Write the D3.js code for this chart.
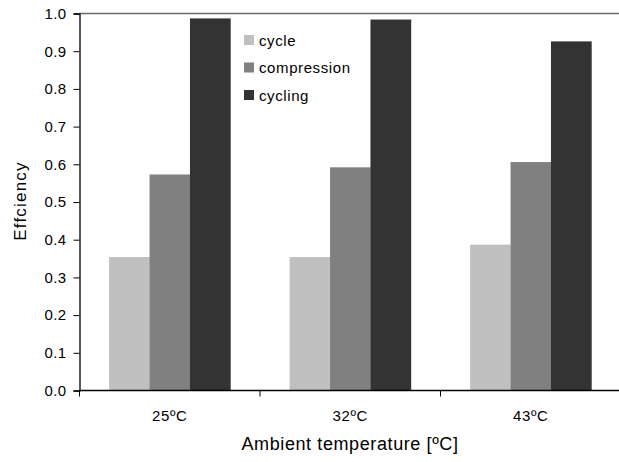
<!DOCTYPE html>
<html><head><meta charset="utf-8">
<script src="https://cdn.jsdelivr.net/npm/d3@7"></script>
<style>body{margin:0;background:#fff}svg{display:block;font-family:"Liberation Sans",Arial,sans-serif}</style>
</head><body>
<script>
const categories = ["25ºC", "32ºC", "43ºC"];
const seriesNames = ["cycle", "compression", "cycling"];
const cycleValues = [0.354, 0.354, 0.387];
const compressionValues = [0.573, 0.592, 0.606];
const cyclingValues = [0.987, 0.984, 0.926];
const yTicks = [0.0, 0.1, 0.2, 0.3, 0.4, 0.5, 0.6, 0.7, 0.8, 0.9, 1.0];
const colors = ["#c0c0c0", "#808080", "#333333"];
const seriesValues = [cycleValues, compressionValues, cyclingValues];

const W = 619, H = 462;
const svg = d3.select("body").append("svg").attr("width", W).attr("height", H);
const mLeft = 79.5, mRight = 621, mTop = 13.5, mBottom = 390.5;

const x0 = d3.scaleBand().domain(categories).range([mLeft, mRight]).padding(0);
const bw = x0.bandwidth();
const x1 = d3.scaleBand().domain(seriesNames).range([bw * 0.164, bw * 0.836]).padding(0);
const y = d3.scaleLinear().domain([0, 1]).range([mBottom, mTop]);

// bars
categories.forEach((c, i) => {
  seriesNames.forEach((s, j) => {
    svg.append("rect")
      .attr("x", x0(c) + x1(s))
      .attr("y", y(seriesValues[j][i]))
      .attr("width", x1.bandwidth() + 0.3)
      .attr("height", y(0) - y(seriesValues[j][i]))
      .attr("fill", colors[j]);
  });
});

// top border
svg.append("line").attr("x1", mLeft).attr("x2", W).attr("y1", mTop).attr("y2", mTop)
  .attr("stroke", "#6a6a6a").attr("stroke-width", 1.5);

// y axis
const yAxis = d3.axisLeft(y).tickValues(yTicks).tickFormat(d3.format(".1f")).tickSize(6).tickPadding(7);
const gy = svg.append("g").attr("transform", `translate(${mLeft},0)`).call(yAxis);
gy.select(".domain").attr("stroke", "#000").attr("stroke-width", 1.3);
gy.selectAll(".tick line").attr("stroke", "#000");
gy.selectAll(".tick text").attr("font-size", 15).attr("letter-spacing", 0.4).attr("fill", "#000")
  .attr("font-family", "Liberation Sans, Arial, sans-serif");

// x axis
const gx = svg.append("g").attr("transform", `translate(0,${mBottom})`);
gx.append("line").attr("x1", mLeft).attr("x2", W).attr("y1", 0).attr("y2", 0)
  .attr("stroke", "#000").attr("stroke-width", 1.5);
categories.forEach(c => {
  gx.append("line").attr("x1", x0(c)).attr("x2", x0(c)).attr("y1", 0).attr("y2", 6).attr("stroke", "#000");
  gx.append("text").attr("x", x0(c) + bw / 2).attr("y", 30).attr("text-anchor", "middle")
    .attr("font-size", 15).attr("letter-spacing", 0.6).text(c);
});

// axis titles
svg.append("text").attr("x", 350).attr("y", 450).attr("text-anchor", "middle")
  .attr("font-size", 18).attr("letter-spacing", 0.6).text("Ambient temperature [ºC]");
svg.append("text").attr("transform", "translate(26,201) rotate(-90)").attr("text-anchor", "middle")
  .attr("font-size", 17).attr("letter-spacing", 1.2).text("Effciency");

// legend
seriesNames.forEach((s, j) => {
  const ly = 35 + j * 27.5;
  svg.append("rect").attr("x", 244).attr("y", ly).attr("width", 10).attr("height", 10).attr("fill", colors[j]);
  svg.append("text").attr("x", 259).attr("y", ly + 10.5).attr("font-size", 15).attr("letter-spacing", 0.6).text(s);
});
</script>
</body></html>
